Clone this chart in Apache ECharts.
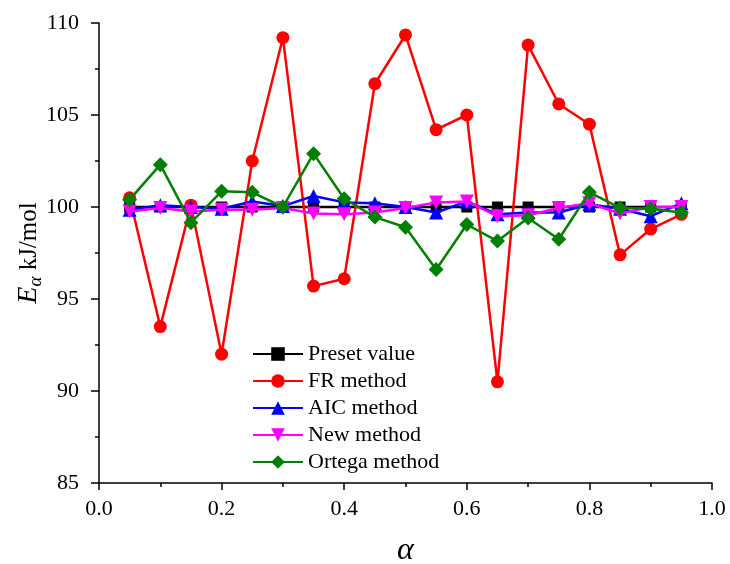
<!DOCTYPE html>
<html>
<head>
<meta charset="utf-8">
<script src="https://cdn.jsdelivr.net/npm/echarts@6/dist/echarts.min.js"></script>
<style>html,body{margin:0;padding:0;background:#fff;}#c{width:730px;height:564px;}</style>
</head>
<body>
<div id="c"></div>
<script>
var alphaValues = [0.05, 0.10, 0.15, 0.20, 0.25, 0.30, 0.35, 0.40, 0.45, 0.50, 0.55, 0.60, 0.65, 0.70, 0.75, 0.80, 0.85, 0.90, 0.95];
var presetValue = [100, 100, 100, 100, 100, 100, 100, 100, 100, 100, 100, 100, 100, 100, 100, 100, 100, 100, 100];
var frMethod = [100.5, 93.5, 100.1, 92.0, 102.5, 109.2, 95.7, 96.1, 106.7, 109.35, 104.2, 105.0, 90.5, 108.8, 105.6, 104.5, 97.4, 98.8, 99.6];
var aicMethod = [99.85, 100.1, 100.0, 99.9, 100.3, 100.05, 100.6, 100.25, 100.2, 100.0, 99.7, 100.3, 99.6, 99.7, 99.7, 100.15, 99.9, 99.5, 100.2];
var newMethod = [99.75, 99.95, 99.75, 99.85, 99.85, 99.95, 99.65, 99.6, 99.7, 99.95, 100.25, 100.3, 99.5, 99.55, 99.95, 100.2, 99.65, 100.0, 100.0];
var ortegaMethod = [100.4, 102.3, 99.15, 100.85, 100.8, 100.0, 102.9, 100.45, 99.45, 98.9, 96.6, 99.05, 98.15, 99.4, 98.25, 100.8, 99.95, 99.9, 99.7];
var seriesNames = ['Preset value', 'FR method', 'AIC method', 'New method', 'Ortega method'];
var xTicks = [0.0, 0.2, 0.4, 0.6, 0.8, 1.0];
var yTicks = [85, 90, 95, 100, 105, 110];

function pairs(vals) { return alphaValues.map(function (x, i) { return [x, vals[i]]; }); }
var font = 'Liberation Serif, Times New Roman, serif';
var styles = [
  { color: '#000000', symbol: 'rect', size: 11 },
  { color: '#ff0000', symbol: 'circle', size: 13 },
  { color: '#0000ff', symbol: 'triangle', size: 14 },
  { color: '#ff00ff', symbol: 'path://M0,0 L10,0 L5,9 Z', size: 14 },
  { color: '#007f00', symbol: 'diamond', size: 15 }
];
var datasets = [presetValue, frMethod, aicMethod, newMethod, ortegaMethod];
var chart = echarts.init(document.getElementById('c'), null, { renderer: 'canvas' });
chart.setOption({
  backgroundColor: '#ffffff',
  animation: false,
  grid: { left: 99, right: 18, top: 23, bottom: 81, containLabel: false, outerBoundsMode: 'none' },
  legend: {
    left: 247, top: 338, orient: 'vertical',
    itemWidth: 50, itemHeight: 17, itemGap: 5,
    textStyle: { fontFamily: font, fontSize: 22, color: '#000', lineHeight: 22 },
    data: seriesNames
  },
  xAxis: {
    type: 'value', min: 0, max: 1, interval: 0.2,
    name: 'α', nameLocation: 'middle', nameGap: 52, nameMoveOverlap: false,
    nameTextStyle: { fontFamily: font, fontSize: 32, fontStyle: 'italic', color: '#000' },
    axisLine: { show: true, onZero: false, lineStyle: { color: '#000', width: 1.5 } },
    axisTick: { show: true, inside: false, length: 7, lineStyle: { color: '#000', width: 1.5 } },
    minorTick: { show: true, splitNumber: 2, length: 4, lineStyle: { color: '#000', width: 1.5 } },
    splitLine: { show: false },
    axisLabel: { margin: 15, fontFamily: font, fontSize: 22, color: '#000',
      formatter: function (v) { return v.toFixed(1); } }
  },
  yAxis: {
    type: 'value', min: 85, max: 110, interval: 5,
    name: '{e|E}{s|α}{n| kJ/mol}', nameLocation: 'middle', nameGap: 54, nameRotate: 90, nameMoveOverlap: false,
    nameTextStyle: {
      fontFamily: font, fontSize: 25, color: '#000',
      rich: {
        e: { fontFamily: font, fontSize: 28, fontStyle: 'italic', color: '#000' },
        s: { fontFamily: font, fontSize: 19, fontStyle: 'italic', color: '#000', padding: [13, 0, 0, 0] },
        n: { fontFamily: font, fontSize: 25, color: '#000' }
      }
    },
    axisLine: { show: true, onZero: false, lineStyle: { color: '#000', width: 1.5 } },
    axisTick: { show: true, inside: false, length: 8, lineStyle: { color: '#000', width: 1.5 } },
    minorTick: { show: true, splitNumber: 2, length: 4, lineStyle: { color: '#000', width: 1.5 } },
    splitLine: { show: false },
    axisLabel: { margin: 20, fontFamily: font, fontSize: 22, color: '#000' }
  },
  series: datasets.map(function (vals, i) {
    return {
      name: seriesNames[i], type: 'line', data: pairs(vals),
      symbol: styles[i].symbol, symbolSize: styles[i].size, showAllSymbol: true,
      itemStyle: { color: styles[i].color },
      lineStyle: { color: styles[i].color, width: 2.5 },
      z: 2 + i
    };
  })
});
</script>
</body>
</html>
